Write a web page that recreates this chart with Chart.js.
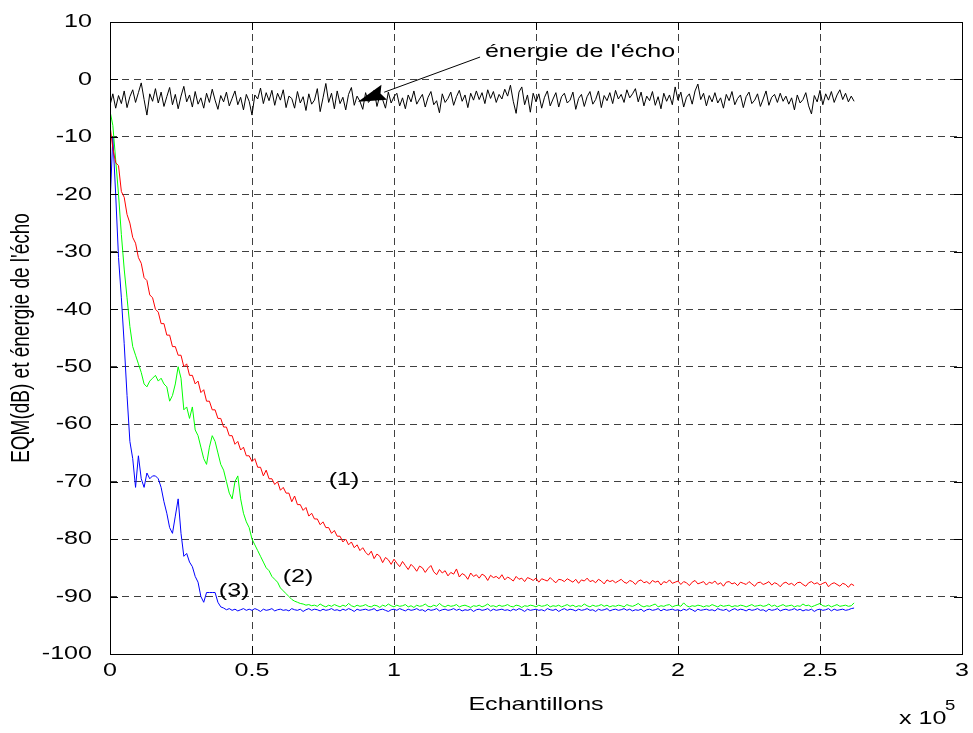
<!DOCTYPE html>
<html>
<head>
<meta charset="utf-8">
<script src="https://cdn.jsdelivr.net/npm/chart.js@4"></script>
<style>
  html, body { margin: 0; padding: 0; background: #fff; }
  #wrap { width: 973px; height: 733px; }
</style>
</head>
<body>
<div id="wrap"><canvas id="eqmChart" width="973" height="733"></canvas></div>
<script>
// samples are in units of 10^5, one value every 0.01
const sampleStep = 0.01;

const xTicks = [0, 0.5, 1, 1.5, 2, 2.5, 3];
const yTicks = [10, 0, -10, -20, -30, -40, -50, -60, -70, -80, -90, -100];

// energie de l'echo (black)
const echo = [
  -4.5, -2.5, -5.0, -2.8, -4.2, -2.0, -4.9, -3.0, -1.8, -4.0,
  -2.3, -0.6, -3.5, -6.2, -2.5, -3.8, -1.6, -4.1, -2.2, -4.7,
  -3.0, -1.4, -4.4, -2.6, -5.1, -2.9, -1.2, -3.9, -2.7, -4.8,
  -2.1, -4.3, -3.2, -5.0, -2.4, -4.0, -1.7, -3.6, -5.2, -2.8,
  -3.9, -2.2, -4.6, -3.3, -2.0, -4.4, -3.1, -5.3, -2.6, -3.8,
  -6.2, -2.7, -3.4, -1.5, -4.2, -2.3, -3.7, -1.9, -4.5, -2.4,
  -3.6, -1.8, -4.9, -2.9, -3.3, -5.0, -2.1, -4.1, -3.0, -5.4,
  -2.5, -4.3, -3.6, -1.6, -5.6, -3.2, -0.7, -4.0, -2.4, -5.1,
  -2.0, -4.2, -3.1, -5.3, -2.6, -1.4, -4.5, -2.9, -3.8, -5.2,
  -2.3, -4.0, -3.4, -1.9, -4.7, -2.8, -3.5, -5.0, -2.2, -4.1,
  -3.0, -2.4, -4.6, -3.2, -5.1, -2.7, -3.9, -2.0, -4.3, -3.4,
  -2.6, -4.8, -3.1, -2.1, -4.4, -3.7, -5.8, -2.5, -4.0, -3.3,
  -2.2, -4.5, -3.0, -1.9, -3.8, -2.7, -4.9, -2.4, -3.6, -2.0,
  -3.5, -2.3, -4.2, -1.8, -3.3, -2.1, -4.0, -2.6, -3.4, -1.7,
  -2.9, -1.0, -3.8, -5.9, -2.2, -1.3, -4.4, -2.7, -5.7, -2.4,
  -3.9, -2.5, -5.0, -3.1, -2.0, -4.6, -3.4, -2.3, -4.8, -3.0,
  -2.4, -4.1, -3.6, -2.2, -5.2, -3.3, -2.6, -4.7, -3.0, -2.1,
  -4.3, -3.5, -2.0, -4.9, -2.8, -3.7, -2.3, -4.2, -1.9, -3.4,
  -2.6, -4.0, -1.8, -3.2, -2.5, -1.6, -3.9, -2.2, -4.6, -2.9,
  -3.7, -2.1, -4.5, -3.0, -5.1, -2.4, -3.8, -2.7, -4.4, -1.3,
  -3.6, -2.2, -4.8, -3.1, -2.5, -4.3, -2.0, -0.8, -3.5, -2.4,
  -4.6, -2.8, -3.9, -2.3, -4.1, -3.2, -5.0, -2.6, -3.7, -2.1,
  -4.4, -3.3, -2.7, -4.9, -3.0, -2.2, -4.2, -3.6, -2.5, -4.7,
  -3.4, -2.0, -4.5, -3.1, -2.6, -4.0, -2.4, -3.8, -2.9, -4.3,
  -3.2, -5.3, -2.7, -4.1, -3.5, -2.3, -4.6, -6.0, -2.8, -3.9,
  -1.9, -4.4, -2.5, -3.6, -2.1, -4.0, -2.7, -1.8, -3.5, -2.4,
  -3.9, -2.9, -3.8
];

// EQM (1) red
const eqm1 = [
  -8, -12, -14.5, -15, -19.5, -20.5, -23.5, -25, -27.5, -28.5,
  -31, -32, -34.5, -35, -37.5, -38, -40, -40.5, -42.5, -42.5,
  -44.5, -44.5, -46.5, -46.5, -48, -48, -50, -49.5, -51.5, -51.5,
  -53, -52.5, -54.5, -54, -56, -56, -57.5, -57.5, -59, -59,
  -60.5, -60.5, -62, -62, -63.5, -63, -64.5, -64, -65.5, -65.5,
  -66.5, -66, -67.5, -67.5, -69, -68, -69.5, -69.5, -70.5, -70,
  -71.5, -71, -72, -72, -73.5, -72.5, -74, -74, -75, -74.5,
  -76, -75.5, -76.5, -76.5, -77.5, -77, -78, -78, -79, -78.5,
  -79.5, -79.5, -80.5, -80, -81, -80.5, -81.5, -81, -82, -81.5,
  -82.3, -82.8, -82.1, -83.4, -82.6, -83.0, -84.1, -83.2, -83.6, -84.4,
  -83.5, -84.2, -84.8, -83.9, -84.6, -85.3, -84.4, -84.9, -85.6, -84.7,
  -85.0, -85.8, -85.1, -84.6, -85.7, -86.2, -85.3, -85.9, -85.5, -86.4,
  -85.8, -86.1, -85.2, -86.6, -86.0, -86.3, -87.0, -85.9, -86.5, -86.2,
  -86.8, -86.1, -86.4, -87.2, -86.3, -86.7, -86.5, -86.9, -86.2, -87.1,
  -86.6, -86.9, -87.3, -86.5, -87.0, -86.8, -87.4, -86.7, -86.9, -87.2,
  -86.8, -87.5, -86.9, -87.1, -87.3, -86.7, -87.2, -87.6, -87.0, -87.1,
  -87.4, -86.9, -87.2, -87.5, -87.0, -87.7, -87.1, -87.3, -86.8, -87.4,
  -87.2, -87.6, -87.0, -87.3, -87.8, -87.1, -87.4, -87.2, -87.6, -87.3,
  -87.0, -87.5, -87.7, -87.2, -87.4, -87.9, -87.3, -87.1, -87.6, -87.4,
  -87.8, -87.2, -87.5, -87.3, -88.0, -87.4, -87.6, -87.1, -87.7, -87.5,
  -87.3, -87.9, -87.4, -87.6, -88.1, -87.5, -87.2, -87.8, -87.6, -87.4,
  -88.0, -87.5, -87.7, -87.3, -87.9, -87.6, -88.2, -87.5, -87.4, -87.8,
  -87.6, -88.1, -87.5, -87.7, -87.9, -87.4, -87.8, -88.2, -87.6, -87.5,
  -87.9, -87.7, -87.4, -88.0, -87.6, -87.8, -88.3, -87.7, -87.5, -87.9,
  -87.7, -88.1, -87.6, -87.5, -87.9, -88.2, -87.6, -87.4, -87.8, -87.6,
  -88.0, -87.7, -87.5, -88.3, -87.8, -87.6, -87.9, -88.2, -87.7, -87.9,
  -88.4, -87.8, -88.1
];

// EQM (2) green
const eqm2 = [
  -5.5, -8, -14, -20, -27, -33, -38, -43, -46.5, -48,
  -49.5, -51, -53, -53.5, -52.5, -52, -51.5, -52.5, -52, -53,
  -53.5, -56, -55, -53, -50, -52, -57.5, -57, -59, -57,
  -61, -62, -64, -66, -67, -64, -62, -63, -65, -67,
  -68, -70, -72, -73, -70, -69, -73, -75.5, -77, -78,
  -80, -81, -82, -83, -84, -85, -85.5, -86.5, -87, -87.5,
  -88.5, -89, -89.5, -90, -90.5, -90.8, -91, -91.2, -91.3, -91.5,
  -91.4, -91.6, -91.5, -91.7, -91.3, -91.6, -91.8, -91.5, -91.7, -91.4,
  -91.6, -91.8, -91.5, -91.7, -91.2, -91.6, -91.8, -91.5, -91.7, -91.6,
  -91.4, -91.7, -91.8, -91.5, -91.6, -91.9, -91.5, -91.7, -91.3, -91.6,
  -91.8, -91.5, -91.7, -91.6, -91.4, -91.8, -91.6, -91.9, -91.5, -91.7,
  -91.6, -91.3, -91.7, -91.8, -91.5, -91.7, -91.2, -91.6, -91.8, -91.5,
  -91.7, -91.6, -91.4, -91.8, -91.6, -91.5, -91.7, -91.9, -91.6, -91.7,
  -91.5, -91.8, -91.6, -91.3, -91.7, -91.6, -91.8, -91.5, -91.7, -91.6,
  -91.4, -91.7, -91.8, -91.5, -91.6, -91.9, -91.6, -91.7, -91.5, -91.6,
  -91.8, -91.5, -91.7, -91.6, -91.4, -91.8, -91.6, -91.7, -91.5, -91.8,
  -91.6, -91.4, -91.7, -91.5, -91.8, -91.6, -91.7, -91.3, -91.6, -91.8,
  -91.5, -91.7, -91.6, -91.4, -91.7, -91.5, -91.8, -91.6, -91.7, -91.5,
  -91.6, -91.8, -91.4, -91.6, -91.7, -91.5, -91.2, -91.6, -91.8, -91.6,
  -91.7, -91.5, -91.3, -91.8, -91.6, -91.7, -91.5, -91.4, -91.8, -91.6,
  -91.5, -91.7, -91.1, -91.6, -91.8, -91.6, -91.7, -91.5, -91.6, -91.8,
  -91.6, -91.7, -91.4, -91.6, -91.8, -91.5, -91.7, -91.6, -91.5, -91.8,
  -91.6, -91.7, -91.5, -91.6, -91.8, -91.6, -91.4, -91.7, -91.6, -91.5,
  -91.7, -91.6, -91.3, -91.7, -91.5, -91.8, -91.6, -91.4, -91.7, -91.6,
  -91.5, -91.8, -91.6, -91.7, -91.3, -91.6, -91.5, -91.8, -91.6, -91.4,
  -91.2, -91.6, -91.7, -91.5, -91.8, -91.6, -91.4, -91.7, -91.6, -91.5,
  -91.7, -91.6, -91.1
];

// EQM (3) blue
const eqm3 = [
  -22, -10, -20, -31, -38, -46, -55, -63, -66, -71,
  -65.5, -69.5, -71, -68.5, -69.5, -69, -69, -69.5, -71, -73.5,
  -75.5, -78, -79, -76, -73, -79, -83, -82.5, -84, -84.8,
  -86.5, -87.5, -90, -91, -89.3, -89.3, -89.3, -89.3, -91, -91.8,
  -92, -92.3, -92.1, -92.4, -92.2, -92.5, -92.3, -92.1, -92.4, -92.2,
  -92.4, -92.1, -92.3, -92.6, -92.2, -92.4, -92.3, -92.1, -92.5, -92.3,
  -92.2, -92.4, -92.3, -92.5, -92.1, -92.3, -92.4, -92.2, -92.6, -92.3,
  -92.1, -92.4, -92.2, -92.3, -92.5, -92.2, -92.4, -92.3, -92.1, -92.4,
  -92.3, -92.5, -92.2, -92.4, -92.1, -92.3, -92.6, -92.2, -92.4, -92.3,
  -92.2, -92.4, -92.3, -92.1, -92.5, -92.3, -92.2, -92.4, -92.6, -92.3,
  -92.2, -92.4, -92.1, -92.3, -92.5, -92.2, -92.4, -92.3, -92.1, -92.4,
  -92.3, -92.6, -92.2, -92.4, -92.3, -92.1, -92.5, -92.3, -92.2, -92.4,
  -92.3, -92.1, -92.4, -92.2, -92.5, -92.3, -92.4, -92.2, -92.6, -92.3,
  -92.2, -92.4, -92.3, -92.1, -92.5, -92.2, -92.4, -92.3, -92.2, -92.4,
  -92.3, -92.5, -92.2, -92.4, -92.1, -92.3, -92.6, -92.2, -92.4, -92.3,
  -92.2, -92.4, -92.3, -92.5, -92.1, -92.3, -92.4, -92.2, -92.6, -92.3,
  -92.1, -92.4, -92.2, -92.3, -92.5, -92.2, -92.4, -92.3, -92.1, -92.4,
  -92.3, -92.6, -92.2, -92.4, -92.3, -92.1, -92.5, -92.3, -92.2, -92.4,
  -92.3, -92.1, -92.4, -92.2, -92.5, -92.3, -92.4, -92.2, -92.6, -92.3,
  -92.2, -92.4, -92.3, -92.1, -92.5, -92.2, -92.4, -92.3, -92.2, -92.4,
  -92.3, -92.5, -92.2, -92.4, -92.1, -92.3, -92.6, -92.2, -92.4, -92.3,
  -92.2, -92.4, -92.3, -92.5, -92.1, -92.3, -92.4, -92.2, -92.6, -92.3,
  -92.1, -92.4, -92.2, -92.3, -92.5, -92.2, -92.4, -92.3, -92.1, -92.4,
  -92.3, -92.6, -92.2, -92.4, -92.3, -92.1, -92.5, -92.3, -92.2, -92.4,
  -92.3, -92.1, -92.4, -92.2, -92.5, -92.3, -92.4, -92.2, -92.6, -92.3,
  -92.2, -92.4, -92.3, -92.1, -92.5, -92.2, -92.4, -92.3, -92.2, -92.4,
  -92.3, -92.1, -92.0
];

const FONT = '"Liberation Sans", Arial, sans-serif';
const FONT_SIZE = 19;
const SX = 1.32; // the original figure is stretched sideways

function toPoints(values) {
    return values.map((v, i) => ({ x: i * sampleStep, y: v }));
}

function stretchedText(ctx, text, x, y, align, baseline, size) {
    ctx.save();
    ctx.translate(x, y);
    ctx.scale(SX, 1);
    ctx.font = (size || FONT_SIZE) + 'px ' + FONT;
    ctx.textAlign = align;
    ctx.textBaseline = baseline;
    ctx.fillStyle = '#000';
    ctx.fillText(text, 0, 0);
    ctx.restore();
}

// axes box, inner ticks, tick labels, titles and the annotations
const matlabAxes = {
    id: 'matlabAxes',
    afterDraw(chart) {
        const ctx = chart.ctx;
        const area = chart.chartArea;
        const xs = chart.scales.x;
        const ys = chart.scales.y;

        ctx.save();
        ctx.strokeStyle = '#000';
        ctx.lineWidth = 1;
        ctx.setLineDash([]);
        ctx.strokeRect(Math.round(area.left) + 0.5, Math.round(area.top) + 0.5,
            Math.round(area.right - area.left), Math.round(area.bottom - area.top));

        ctx.beginPath();
        xTicks.forEach(t => {
            const px = Math.round(xs.getPixelForValue(t)) + 0.5;
            ctx.moveTo(px, area.bottom); ctx.lineTo(px, area.bottom - 8);
            ctx.moveTo(px, area.top); ctx.lineTo(px, area.top + 8);
        });
        yTicks.forEach(t => {
            const py = Math.round(ys.getPixelForValue(t)) + 0.5;
            ctx.moveTo(area.left, py); ctx.lineTo(area.left + 8, py);
            ctx.moveTo(area.right, py); ctx.lineTo(area.right - 8, py);
        });
        ctx.stroke();
        ctx.restore();

        xTicks.forEach(t => {
            stretchedText(ctx, String(t), xs.getPixelForValue(t), area.bottom + 17, 'center', 'middle');
        });
        yTicks.forEach(t => {
            stretchedText(ctx, String(t), area.left - 18, ys.getPixelForValue(t), 'right', 'middle');
        });

        stretchedText(ctx, 'Echantillons', (area.left + area.right) / 2, area.bottom + 51, 'center', 'middle');
        stretchedText(ctx, 'x 10', 899, 719, 'left', 'middle');
        stretchedText(ctx, '5', 945, 706, 'left', 'middle', 14);

        ctx.save();
        ctx.translate(22, (area.top + area.bottom) / 2);
        ctx.rotate(-Math.PI / 2);
        ctx.scale(1, SX);
        ctx.font = FONT_SIZE + 'px ' + FONT;
        ctx.textAlign = 'center';
        ctx.textBaseline = 'middle';
        ctx.fillStyle = '#000';
        ctx.fillText("EQM(dB) et énergie de l'écho", 0, 0);
        ctx.restore();

        // curve labels
        stretchedText(ctx, '(1)', xs.getPixelForValue(0.824), ys.getPixelForValue(-69.7), 'center', 'middle');
        stretchedText(ctx, '(2)', xs.getPixelForValue(0.662), ys.getPixelForValue(-86.6), 'center', 'middle');
        stretchedText(ctx, '(3)', xs.getPixelForValue(0.437), ys.getPixelForValue(-89.0), 'center', 'middle');
        stretchedText(ctx, "énergie de l'écho", xs.getPixelForValue(1.655), ys.getPixelForValue(4.8), 'center', 'middle');

        // arrow to the echo curve
        const sx = xs.getPixelForValue(1.303), sy = ys.getPixelForValue(3.9);
        const tx = xs.getPixelForValue(0.873), ty = ys.getPixelForValue(-3.9);
        const len = Math.hypot(tx - sx, ty - sy);
        const dx = (tx - sx) / len, dy = (ty - sy) / len;
        const bx = tx - dx * 28, by = ty - dy * 28;
        ctx.save();
        ctx.strokeStyle = '#000';
        ctx.fillStyle = '#000';
        ctx.lineWidth = 1;
        ctx.beginPath();
        ctx.moveTo(sx, sy); ctx.lineTo(bx, by);
        ctx.stroke();
        ctx.beginPath();
        ctx.moveTo(tx, ty);
        ctx.lineTo(bx - dy * 8, by + dx * 8);
        ctx.lineTo(bx + dx * 4, by + dy * 4);
        ctx.lineTo(bx + dy * 8, by - dx * 8);
        ctx.closePath();
        ctx.fill();
        ctx.restore();
    }
};

function initEqmChart() {
    const ctx = document.getElementById('eqmChart');
    if (!ctx) return;

    const line = (values, color) => ({
        data: toPoints(values),
        borderColor: color,
        borderWidth: 1,
        pointRadius: 0,
        tension: 0,
        fill: false
    });

    new Chart(ctx, {
        type: 'line',
        data: {
            datasets: [
                line(echo, '#000000'),
                line(eqm1, '#ff0000'),
                line(eqm2, '#00ff00'),
                line(eqm3, '#0000ff')
            ]
        },
        options: {
            responsive: false,
            animation: false,
            events: [],
            layout: { padding: { top: 22, right: 11, left: 0, bottom: 0 } },
            plugins: {
                legend: { display: false },
                tooltip: { enabled: false }
            },
            scales: {
                x: {
                    type: 'linear',
                    min: 0,
                    max: 3,
                    ticks: { stepSize: 0.5, display: false },
                    grid: { color: 'rgba(0,0,0,0.75)', drawTicks: false },
                    border: { display: false, dash: [7, 5] },
                    afterFit: scale => { scale.height = 79; }
                },
                y: {
                    min: -100,
                    max: 10,
                    ticks: { stepSize: 10, display: false },
                    grid: { color: 'rgba(0,0,0,0.75)', drawTicks: false },
                    border: { display: false, dash: [7, 5] },
                    afterFit: scale => { scale.width = 110; }
                }
            }
        },
        plugins: [matlabAxes]
    });
}

initEqmChart();
</script>
</body>
</html>
